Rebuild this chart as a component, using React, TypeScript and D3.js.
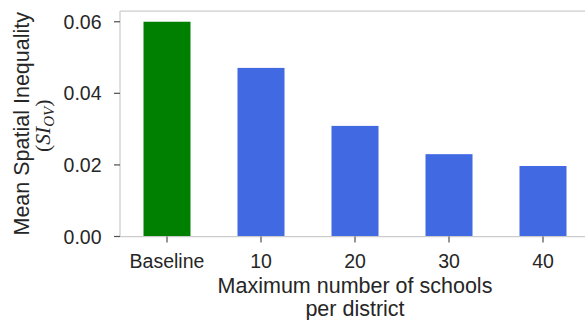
import React from "react";
import * as d3 from "d3";

const categories = ["Baseline", "10", "20", "30", "40"];
const values = [0.06, 0.0471, 0.0309, 0.023, 0.0197];
const barColors = ["#008000", "#4169E1", "#4169E1", "#4169E1", "#4169E1"];
const yTicks = [0, 0.02, 0.04, 0.06];

const W = 585;
const H = 320;
const plot = { left: 120, right: 590, top: 11, bottom: 236.5 };
const font = "'Liberation Sans', Arial, sans-serif";
const textColor = "#262626";
const tickSize = 19.5;
const labelSize = 21.5;

export default function App() {
  const x = d3
    .scaleBand<string>()
    .domain(categories)
    .range([plot.left, plot.right])
    .paddingInner(0.5)
    .paddingOuter(0.25);
  const y = d3.scaleLinear().domain([0, 0.063]).range([plot.bottom, plot.top]);
  const fmt = d3.format(".2f");
  const midY = (plot.top + plot.bottom) / 2;

  return (
    <svg
      width={W}
      height={H}
      style={{ position: "absolute", left: 0, top: 0, background: "#fff" }}
    >
      {categories.map((c, i) => (
        <rect
          key={c}
          x={x(c)}
          y={y(values[i])}
          width={x.bandwidth()}
          height={plot.bottom - y(values[i])}
          fill={barColors[i]}
        />
      ))}
      {/* spines */}
      <g stroke="#cccccc" strokeWidth={1.25} fill="none">
        <line x1={plot.left} x2={plot.left} y1={plot.top} y2={plot.bottom} />
        <line x1={plot.left} x2={plot.right} y1={plot.top} y2={plot.top} />
        <line x1={plot.left} x2={plot.right} y1={plot.bottom} y2={plot.bottom} />
      </g>
      {/* y axis */}
      {yTicks.map((t) => (
        <g key={t}>
          <line
            x1={plot.left - 6}
            x2={plot.left}
            y1={y(t)}
            y2={y(t)}
            stroke="#555"
            strokeWidth={1.25}
          />
          <text
            x={101.5}
            y={y(t)}
            dy="0.36em"
            textAnchor="end"
            fontFamily={font}
            fontSize={tickSize}
            fill={textColor}
          >
            {fmt(t)}
          </text>
        </g>
      ))}
      {/* x axis */}
      {categories.map((c) => {
        const cx = (x(c) as number) + x.bandwidth() / 2;
        return (
          <g key={c}>
            <line
              x1={cx}
              x2={cx}
              y1={plot.bottom}
              y2={plot.bottom + 6}
              stroke="#555"
              strokeWidth={1.25}
            />
            <text
              x={cx}
              y={267.7}
              textAnchor="middle"
              fontFamily={font}
              fontSize={tickSize}
              fill={textColor}
            >
              {c}
            </text>
          </g>
        );
      })}
      <text
        x={355}
        y={293.3}
        textAnchor="middle"
        fontFamily={font}
        fontSize={labelSize}
        fill={textColor}
      >
        Maximum number of schools
      </text>
      <text
        x={355}
        y={315.5}
        textAnchor="middle"
        fontFamily={font}
        fontSize={labelSize}
        fill={textColor}
      >
        per district
      </text>
      {/* y label */}
      <text
        transform={`translate(28.5,${midY}) rotate(-90)`}
        textAnchor="middle"
        fontFamily={font}
        fontSize={labelSize}
        fill={textColor}
      >
        Mean Spatial Inequality
      </text>
      <text
        transform={`translate(50,${midY + 2}) rotate(-90)`}
        textAnchor="middle"
        fontFamily="'Liberation Serif', 'DejaVu Serif', serif"
        fontSize={labelSize}
        fill={textColor}
      >
        <tspan>(</tspan>
        <tspan fontStyle="italic">SI</tspan>
        <tspan fontStyle="italic" fontSize={15} dy={4}>
          OV
        </tspan>
        <tspan dy={-4}>)</tspan>
      </text>
    </svg>
  );
}
